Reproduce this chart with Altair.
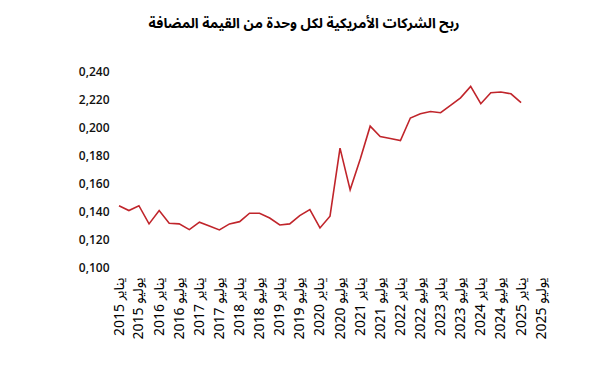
import altair as alt
import pandas as pd

title_text = "ربح الشركات الأمريكية لكل وحدة من القيمة المضافة"

# quarterly values, 2015Q1 .. 2025Q1
values = [
    0.1438, 0.1403, 0.1438, 0.1308, 0.1403, 0.1313, 0.1308, 0.1267,
    0.1320, 0.1293, 0.1265, 0.1308, 0.1324, 0.1384, 0.1384, 0.1350,
    0.1300, 0.1308, 0.1367, 0.1410, 0.1279, 0.1363, 0.1849, 0.1551,
    0.1772, 0.2006, 0.1932, 0.1918, 0.1903, 0.2064, 0.2094, 0.2111,
    0.2102, 0.2154, 0.2208, 0.2290, 0.2166, 0.2245, 0.2250, 0.2237,
    0.2174,
]
dates = pd.date_range("2015-01-01", periods=len(values), freq="QS")

tick_dates = pd.date_range("2015-01-01", "2025-07-01", freq="6MS")
tick_values = [d.strftime("%Y-%m-%d") for d in tick_dates]
y_ticks = [0.10, 0.12, 0.14, 0.16, 0.18, 0.20, 0.22, 0.24]

df = pd.DataFrame({"date": dates, "value": values})

line = alt.Chart(df).mark_line(color="#c0252b", strokeWidth=1.6).encode(
    x=alt.X(
        "date:T",
        scale=alt.Scale(domain=["2015-01-01", "2025-07-01"]),
        axis=alt.Axis(
            values=tick_values,
            labelExpr="year(datum.value) + ' ' + (month(datum.value) == 0 ? 'يناير' : 'يوليو')",
            labelAngle=-90,
            labelAlign="right",
            labelBaseline="middle",
            labelFontSize=14,
            labelFont="Noto Sans Arabic, Noto Naskh Arabic, DejaVu Sans",
            labelColor="#000000",
            labelPadding=10,
            domain=False,
            ticks=False,
            grid=False,
            title=None,
            labelOverlap=False,
        ),
    ),
    y=alt.Y(
        "value:Q",
        scale=alt.Scale(domain=[0.10, 0.24], zero=False, nice=False),
        axis=alt.Axis(
            values=y_ticks,
            labelExpr="abs(datum.value - 0.22) < 0.0001 ? '2,220' : replace(format(datum.value, '.3f'), '.', ',')",
            labelFontSize=12,
            labelFont="Open Sans",
            labelFontWeight=600,
            labelColor="#111111",
            labelPadding=10,
            domain=False,
            ticks=False,
            grid=False,
            title=None,
        ),
    ),
).properties(
    width=422,
    height=196,
    padding={"left": 70, "top": 9, "right": 20, "bottom": 5},
    title=alt.TitleParams(
        text=title_text,
        fontSize=14,
        fontWeight="bold",
        font="Noto Sans Arabic, Noto Naskh Arabic, DejaVu Sans",
        color="#000000",
        anchor="middle",
        offset=34,
        dx=-26,
    ),
).configure_view(stroke=None)

line.save("out.html", embed_options={"renderer": "svg", "actions": False})
